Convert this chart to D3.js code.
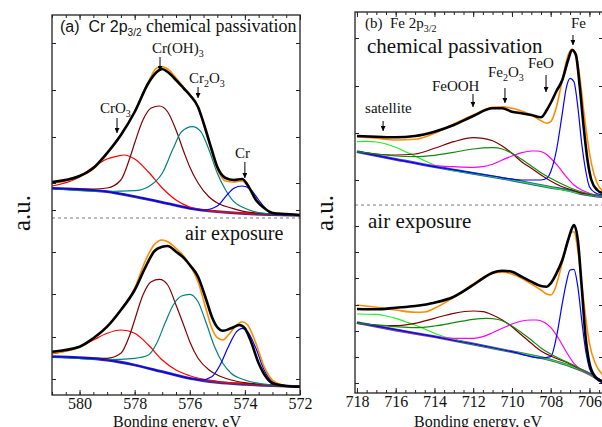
<!DOCTYPE html>
<html><head><meta charset="utf-8">
<script src="https://cdn.jsdelivr.net/npm/d3@7"></script>
<style>body{margin:0;background:#fff}svg{display:block}</style>
</head><body>
<svg id="c" width="602" height="427"></svg>
<script>
// ---------- tick labels ----------
const crTicksX = [580, 578, 576, 574, 572];
const feTicksX = [718, 716, 714, 712, 710, 708, 706];
const crTicksY = [352, 305, 258, 212, 185, 143, 101, 58, 16];
const feTicksY = [355, 307, 260, 213, 167, 141, 115, 88, 62, 36, 10];
const crSplit = 177;   // dashed separator (a.u.)
const feSplit = 188;

// ---------- (a) Cr 2p3/2, chemical passivation ----------
const crPassData = [[581,213],[580,219],[579.5,227],[579,242],[578.5,260],[578,283],[577.5,312],[577.2,323],[577,326],[576.8,323],[576.5,315],[576.2,306],[576,300],[575.7,288],[575.5,272],[575.2,245],[575,228],[574.7,217],[574.4,215],[574.1,216],[573.9,210],[573.6,195],[573.3,187],[573,182],[572.5,181],[572,180]];
const crPassFit = [[581,211.7],[580,218.3],[579.5,226],[579,241],[578.5,260],[578,284],[577.5,313.3],[577.2,327],[577,328.3],[576.8,326],[576.5,317],[576.2,307],[576,300.7],[575.7,288],[575.5,271],[575.2,243],[575,226],[574.7,214],[574.4,213],[574.1,214],[573.9,209],[573.6,196],[573.3,187],[573,182.7],[572.5,180.7],[572,180]];
const crPassBg = [[581,206.7],[580,205.7],[579,203.3],[578,198.3],[577,192.7],[576,186.7],[575,183.3],[574,181.3],[573,180.3],[572,179.7]];
const crPassCrO3 = [[581,209],[580,218],[579.5,228],[579,236],[578.6,239],[578.4,240],[578,236],[577.5,223],[577,207],[576.5,195],[576,188],[575,183.3],[574,181.7],[572,179.7]];
const crPassCrOH3 = [[581,206.7],[579.5,206],[579,207],[578.5,215],[578.2,235],[578,252],[577.7,275],[577.4,287],[577.1,289],[576.8,283],[576.5,265],[576.2,242],[576,228],[575.7,212],[575.3,198],[575,192],[574.5,187],[574,183.3],[573,181],[572,179.7]];
const crPassCr2O3 = [[581,206.7],[579,203.5],[578,204.3],[577.5,208.3],[577,221.7],[576.6,246.7],[576.3,263.3],[575.9,268.3],[575.6,263.3],[575.3,245],[575,221.7],[574.7,205],[574.4,193.3],[574,186.7],[573.5,182.3],[573,181],[572,179.7]];
const crPassCr = [[581,206.7],[579,203.3],[577,192.7],[576,186.7],[575.5,185],[575,189],[574.7,198.3],[574.4,206.7],[574.1,209],[573.8,205.7],[573.5,195],[573.2,185],[573,181.7],[572.5,180],[572,179.7]];

// ---------- (a) Cr 2p3/2, air exposure ----------
const crAirData = [[581,43.3],[580,48.3],[579.5,56.7],[579,68.3],[578.5,85],[578,105],[577.6,128.3],[577.3,143.3],[577,148.3],[576.8,149],[576.5,143.3],[576.2,136.7],[576,130],[575.7,118.3],[575.4,95],[575.2,78.3],[575,67.7],[574.8,64.3],[574.5,66.7],[574.2,70],[574,66.7],[573.8,55],[573.5,31.7],[573.2,16.7],[573,11.7],[572.5,9],[572,8.3]];
const crAirFit = [[581,41.7],[580,47.7],[579,68.3],[578.5,85],[578,106.7],[577.6,135],[577.3,150],[577,155],[576.8,153.3],[576.5,146.7],[576.2,138.3],[576,130],[575.7,113.3],[575.4,85],[575.2,66.7],[575,57.3],[574.8,55],[574.6,60],[574.3,70],[574.1,73.3],[573.9,70],[573.6,51.7],[573.3,28.3],[573,15],[572.5,9.3],[572,8.3]];
const crAirBg = [[581,38.3],[580,37.3],[579,35],[578,30],[577,23.3],[576,16.7],[575,12.7],[574,10.7],[573,9.3],[572,8.3]];
const crAirCrO3 = [[581,41],[580,48.3],[579.5,55],[579,61.7],[578.5,65],[578,61.7],[577.5,50],[577,35],[576.5,25],[576,19.3],[575,13.7],[574,11.3],[572,8.3]];
const crAirCrOH3 = [[581,38.3],[579,36.7],[578.5,41.7],[578.2,58.3],[578,75],[577.7,100],[577.4,113.3],[577.1,115.7],[576.8,110],[576.5,90],[576.2,68.3],[576,53.3],[575.7,36.7],[575.3,25],[575,20],[574.5,15],[574,12.3],[573,10],[572,8.3]];
const crAirCr2O3 = [[581,38.3],[579,35.5],[578,36.7],[577.5,40],[577.2,51.7],[576.9,71.7],[576.6,90],[576.3,99],[576,100.7],[575.7,93.3],[575.4,71.7],[575.1,48.3],[574.8,31.7],[574.5,21.7],[574,15],[573.5,11.7],[573,10],[572,8.3]];
const crAirCr = [[581,38.3],[579,35],[577,23.3],[576,16.7],[575.6,15],[575.2,18.3],[574.9,30],[574.6,48.3],[574.3,63.3],[574.1,66.7],[573.9,63.3],[573.6,46.7],[573.3,25],[573,13.3],[572.5,9.3],[572,8.3]];

// ---------- (b) Fe 2p3/2, chemical passivation ----------
const fePassData = [[718,257],[717,256.3],[716,255.7],[715,257],[714,261.3],[713,268],[712,277],[711,284.7],[710.5,284.7],[710,281.3],[709.5,279.7],[709,278],[708.5,275.7],[708.2,283],[708,290],[707.7,302],[707.4,313],[707.1,333],[706.9,343],[706.7,338],[706.5,306.3],[706.3,266.3],[706.1,233],[705.9,213],[705.6,203],[705.3,199.7]];
const fePassFit = [[718,256.3],[717,254.7],[716,253],[715,253.7],[714,259.7],[713,269],[712,278],[711,285.7],[710.5,286.3],[710,284.7],[709.5,282],[709,278],[708.5,272.3],[708.2,269.7],[708,271.3],[707.7,286.3],[707.4,313],[707.1,338],[706.9,343.7],[706.7,339.7],[706.5,316.3],[706.3,283],[706.1,253],[705.9,229.7],[705.6,209.7],[705.3,201.3]];
const fePassBg = [[718,241.3],[716,233.7],[714,226.3],[712,219.7],[710,213],[708,205.7],[707,202.3],[706.5,199.7],[706,198],[705.3,196.3]];
const fePassFe = [[718,241.3],[714,226.3],[711,217],[709.5,213],[708.5,213],[708.2,214.7],[708,221.3],[707.7,243],[707.4,279.7],[707.2,304.7],[707,314.7],[706.8,311.3],[706.6,286.3],[706.4,249.7],[706.2,223],[706,206.3],[705.7,200.3],[705.3,198]];
const fePassFeO = [[718,241.3],[716,233.7],[714,227.3],[713,226.3],[712,225.7],[711.5,226.3],[711,228.7],[710.5,233],[710,237],[709.5,240.3],[709,242],[708.7,242],[708.3,239.7],[708,234.7],[707.6,226.3],[707.2,216.3],[706.8,208],[706.4,203],[706,199.7],[705.3,196.3]];
const fePassFeOOH = [[718,241.3],[717,239],[716,238],[715,239],[714,244.7],[713,251.3],[712,255.3],[711.5,254.7],[711,252.3],[710.5,247],[710,239.7],[709.5,231.3],[709,224.7],[708.5,218],[708,212],[707.5,207],[707,203.7],[706.5,200.3],[706,198.7],[705.3,197]];
const fePassFe2O3 = [[718,241.3],[717,239],[716,237],[715,236.3],[714,237.7],[713,240.7],[712,244],[711,245.3],[710.5,244],[710,239.7],[709.5,233.7],[709,227],[708.5,220.3],[708,214.7],[707.5,209.7],[707,205.3],[706.5,201.7],[706,199],[705.3,197]];
const fePassSat = [[718,251.3],[717.5,251.7],[717,251],[716.5,249],[716,245.7],[715.5,241.3],[715,237],[714.5,232.3],[714,228],[713.5,224.7],[713,222.3],[712,219.7],[710,213],[708,205.7],[706,198],[705.3,196.3]];

// ---------- (b) Fe 2p3/2, air exposure ----------
const feAirData = [[718,84],[717,83.7],[716,85.3],[715,87],[714,90.3],[713,96.3],[712,108],[711.5,114.7],[711,120.3],[710.5,122.3],[710,121.3],[709.5,116.3],[709,111.3],[708.5,107],[708.2,106.3],[708,109.7],[707.7,119.7],[707.4,133],[707.1,153],[706.9,164.7],[706.8,168],[706.6,153],[706.4,106.3],[706.2,56.3],[706,29.7],[705.7,16.3],[705.3,11.3]];
const feAirFit = [[718,88],[717,85.7],[716,83],[715,80.7],[714.5,81],[714,84.7],[713,95.7],[712,109],[711.5,115.3],[711,119.7],[710.5,120.7],[710,119],[709.5,114.7],[709,109],[708.5,103],[708.2,99],[708,98],[707.8,103],[707.5,123],[707.2,146.3],[707,159.7],[706.8,161.3],[706.6,143],[706.4,109.7],[706.2,76.3],[706,49.7],[705.7,29.7],[705.3,18]];
const feAirBg = [[718,70.3],[716,63],[714,56.3],[712,49],[710,41.3],[708,33],[707,27],[706,19],[705.5,13],[705.3,10.5]];
const feAirFe = [[718,70.3],[714,56.3],[710,41.3],[708.5,35],[708,36.3],[707.7,56.3],[707.4,89.7],[707.2,109.7],[707,123],[706.8,123.7],[706.6,106.3],[706.4,73],[706.2,43],[706,24.7],[705.7,14.7],[705.3,10.3]];
const feAirFeO = [[718,70.3],[716,63],[714.5,58],[714,56.3],[713,54.7],[712,54.7],[711.5,56.3],[711,60.3],[710.5,64.7],[710,69],[709.5,72],[709,73],[708.7,73],[708.3,70.3],[708,65.7],[707.6,54.7],[707.2,41.3],[706.8,29.7],[706.4,23],[706,19],[705.3,12]];
const feAirFeOOH = [[718,69.7],[717,68],[716,67.3],[715,69.7],[714,74.7],[713,79.7],[712,82],[711.5,81.3],[711,78],[710.5,73],[710,66.3],[709.5,58],[709,49.7],[708.5,42],[708,37],[707.5,33],[707,29],[706.5,24],[706,19.5],[705.3,11.5]];
const feAirFe2O3 = [[718,69.7],[717,68],[716,66.3],[715,65.3],[714,67],[713,70.3],[712,73.7],[711.3,74.7],[711,74.3],[710.5,72.3],[710,67],[709.5,60.3],[709,53],[708.5,45],[708,39],[707.5,34],[707,29.5],[706.5,24.5],[706,19.5],[705.3,11.5]];
const feAirSat = [[718,79],[717,78.7],[716.5,77],[716,74.7],[715.5,71.3],[715,68],[714.5,64],[714,59.7],[713.5,56.3],[713,53.7],[712,49],[710,41.3],[708,33],[706,19],[705.3,10.5]];

// ---------- peak labels (eV, a.u.) ----------
const crLabels = [
  {parts:[["Cr(OH)"],["3",1]], tx:577.37, ty:342, ax:577.08, a1:338, a2:324},
  {parts:[["Cr"],["2",1],["O"],["3",1]], tx:576.03, ty:312, ax:575.70, a1:308, a2:297},
  {parts:[["CrO"],["3",1]], tx:579.26, ty:282, ax:578.64, a1:277, a2:262},
  {parts:[["Cr"]], tx:574.36, ty:237, ax:574.0, a1:233, a2:217}
];
const feLabels = [
  {parts:[["satellite"]], tx:717.58, ty:280, ax:716.65, a1:272, a2:262},
  {parts:[["FeOOH"]], tx:714.13, ty:302, ax:712.01, a1:299, a2:286},
  {parts:[["Fe"],["2",1],["O"],["3",1]], tx:711.24, ty:316, ax:710.36, a1:305, a2:290},
  {parts:[["FeO"]], tx:709.17, ty:325, ax:708.24, a1:318, a2:301},
  {parts:[["Fe"]], tx:706.95, ty:365, ax:706.85, a1:358, a2:348}
];

// ---------- drawing ----------
const svg = d3.select('#c');
const serif = '"Liberation Serif","Times New Roman",serif';
const sans = '"Liberation Sans",Arial,sans-serif';

const defs = svg.append('defs');
defs.append('marker').attr('id','arr').attr('viewBox','0 0 10 10')
  .attr('refX',10).attr('refY',5).attr('markerWidth',5).attr('markerHeight',5)
  .attr('markerUnits','userSpaceOnUse').attr('orient','auto')
  .append('path').attr('d','M0,0 L10,5 L0,10 z').attr('fill','#000');

const C = {black:'#000', orange:'#ff8c00', red:'#ff0000', brown:'#800000', teal:'#008080',
  blue:'#0000ff', magenta:'#ff00ff', dgreen:'#108a10', lgreen:'#22ee22'};

function panel(cfg, idx){
  const x = d3.scaleLinear().domain(cfg.xDomain).range([cfg.left, cfg.right]);
  const y = d3.scaleLinear().domain(cfg.yDomain).range([cfg.bottom, cfg.top]);
  const g = svg.append('g');
  const cid = 'clip'+idx;
  defs.append('clipPath').attr('id',cid).append('rect')
    .attr('x',cfg.left).attr('y',cfg.top).attr('width',cfg.right-cfg.left).attr('height',cfg.bottom-cfg.top);
  const plot = g.append('g').attr('clip-path',`url(#${cid})`);

  plot.append('line').attr('x1',cfg.left).attr('x2',cfg.right)
    .attr('y1',y(cfg.split)).attr('y2',y(cfg.split))
    .attr('stroke','#7a7a7a').attr('stroke-width',1).attr('stroke-dasharray','3,3');

  const line = d3.line().x(d=>x(d[0])).y(d=>y(d[1])).curve(d3.curveMonotoneX);
  cfg.series.forEach(s=>{
    plot.append('path').attr('d',line(s[0])).attr('fill','none')
      .attr('stroke',s[1]).attr('stroke-width',s[2]).attr('stroke-linejoin','round');
  });

  // axes
  const minor = d3.range(cfg.minor[0], cfg.minor[1]+0.001, 0.5);
  const bx = g.append('g').attr('transform',`translate(0,${cfg.bottom})`)
    .call(d3.axisBottom(x).tickValues(cfg.xTicks).tickFormat(d3.format('d')).tickSizeInner(-5).tickSizeOuter(0).tickPadding(3));
  g.append('g').attr('transform',`translate(0,${cfg.bottom})`)
    .call(d3.axisBottom(x).tickValues(minor).tickFormat('').tickSizeInner(-3).tickSizeOuter(0));
  g.append('g').attr('transform',`translate(0,${cfg.top})`)
    .call(d3.axisTop(x).tickValues(cfg.xTicks).tickFormat('').tickSizeInner(-5).tickSizeOuter(0));
  g.append('g').attr('transform',`translate(0,${cfg.top})`)
    .call(d3.axisTop(x).tickValues(minor).tickFormat('').tickSizeInner(-3).tickSizeOuter(0));
  g.append('g').attr('transform',`translate(${cfg.left},0)`)
    .call(d3.axisLeft(y).tickValues(cfg.yTicks).tickFormat('').tickSizeInner(-4).tickSizeOuter(0));
  g.append('g').attr('transform',`translate(${cfg.right},0)`)
    .call(d3.axisRight(y).tickValues(cfg.yTicks).tickFormat('').tickSizeInner(-4).tickSizeOuter(0));
  g.selectAll('.domain').remove();
  g.selectAll('.tick line').attr('stroke','#222').attr('stroke-width',1);
  bx.selectAll('text').attr('font-family',serif).attr('font-size',16).attr('fill','#111');

  g.append('rect').attr('x',cfg.left).attr('y',cfg.top)
    .attr('width',cfg.right-cfg.left).attr('height',cfg.bottom-cfg.top)
    .attr('fill','none').attr('stroke','#222').attr('stroke-width',1.3);

  // labels
  cfg.labels.forEach(L=>{
    const t = g.append('text').attr('x',x(L.tx)).attr('y',y(L.ty))
      .attr('font-family',serif).attr('font-size',15).attr('fill','#111');
    let sub=false;
    L.parts.forEach(p=>{
      const isSub = !!p[1];
      const ts = t.append('tspan').text(p[0]);
      if(isSub){ ts.attr('font-size',10); if(!sub) ts.attr('dy',4); }
      else if(sub){ ts.attr('dy',-4); }
      sub = isSub;
    });
    g.append('line').attr('x1',x(L.ax)).attr('x2',x(L.ax)).attr('y1',y(L.a1)).attr('y2',y(L.a2))
      .attr('stroke','#000').attr('stroke-width',1).attr('marker-end','url(#arr)');
  });

  // x label
  g.append('text').attr('x',(cfg.left+cfg.right)/2 + cfg.xlabOff).attr('y',427)
    .attr('text-anchor','middle').attr('font-family',serif).attr('font-size',16).attr('fill','#111')
    .text('Bonding energy, eV');
  // y label
  g.append('text').attr('transform',`translate(${cfg.left-22},213) rotate(-90)`)
    .attr('text-anchor','middle').attr('font-family',serif).attr('font-size',25).attr('fill','#111')
    .text('a.u.');
  return {x,y,g};
}

panel({
  xDomain:[581,572], yDomain:[0,380], left:52, right:300, top:15, bottom:395,
  xTicks:crTicksX, yTicks:crTicksY, minor:[572,581], split:crSplit, xlabOff:1,
  series:[
    [crPassBg,'#3d2e96',2.8],[crPassCrO3,C.red,1.2],[crPassCrOH3,C.brown,1.2],[crPassCr2O3,C.teal,1.2],[crPassCr,C.blue,1.2],
    [crPassFit,C.orange,1.6],[crPassData,C.black,2.6],
    [crAirBg,'#3d2e96',2.8],[crAirCrO3,C.red,1.2],[crAirCrOH3,C.brown,1.2],[crAirCr2O3,C.teal,1.2],[crAirCr,C.blue,1.2],
    [crAirFit,C.orange,1.6],[crAirData,C.black,2.6]
  ],
  labels:crLabels
},0);

panel({
  xDomain:[718.1,705.3], yDomain:[0,381], left:355, right:603, top:12, bottom:393,
  xTicks:feTicksX, yTicks:feTicksY, minor:[705.5,718], split:feSplit, xlabOff:-1,
  series:[
    [fePassBg,'#2a55a0',2.8],[fePassSat,C.lgreen,1.2],[fePassFeOOH,C.brown,1.2],[fePassFeO,C.magenta,1.2],[fePassFe,C.blue,1.2],[fePassFe2O3,C.dgreen,1.2],
    [fePassFit,C.orange,1.6],[fePassData,C.black,2.6],
    [feAirBg,'#555a70',2.8],[feAirSat,C.lgreen,1.2],[feAirFeOOH,C.brown,1.2],[feAirFeO,C.magenta,1.2],[feAirFe,C.blue,1.2],[feAirFe2O3,C.dgreen,1.2],
    [feAirFit,C.orange,1.6],[feAirData,C.black,2.6]
  ],
  labels:feLabels
},1);

// panel titles
const t1 = svg.append('text').attr('x',60).attr('y',32).attr('fill','#111');
t1.append('tspan').attr('font-family',sans).attr('font-size',16).text('(a)\u00a0\u00a0Cr 2p');
t1.append('tspan').attr('font-family',sans).attr('font-size',10).attr('dy',4).text('3/2');
t1.append('tspan').attr('font-family',serif).attr('font-size',18).attr('dy',-4).text('\u00a0chemical passivation');

const t2 = svg.append('text').attr('x',365).attr('y',28).attr('fill','#111').attr('font-family',serif);
t2.append('tspan').attr('font-size',15).text('(b)\u00a0\u00a0Fe 2p');
t2.append('tspan').attr('font-size',10).attr('dy',4).text('3/2');

svg.append('text').attr('x',367).attr('y',53).attr('font-family',serif).attr('font-size',21).attr('fill','#111').text('chemical passivation');
svg.append('text').attr('x',368).attr('y',228).attr('font-family',serif).attr('font-size',21).attr('fill','#111').text('air exposure');
svg.append('text').attr('x',185).attr('y',240).attr('font-family',serif).attr('font-size',20).attr('fill','#111').text('air exposure');
</script>
</body></html>
